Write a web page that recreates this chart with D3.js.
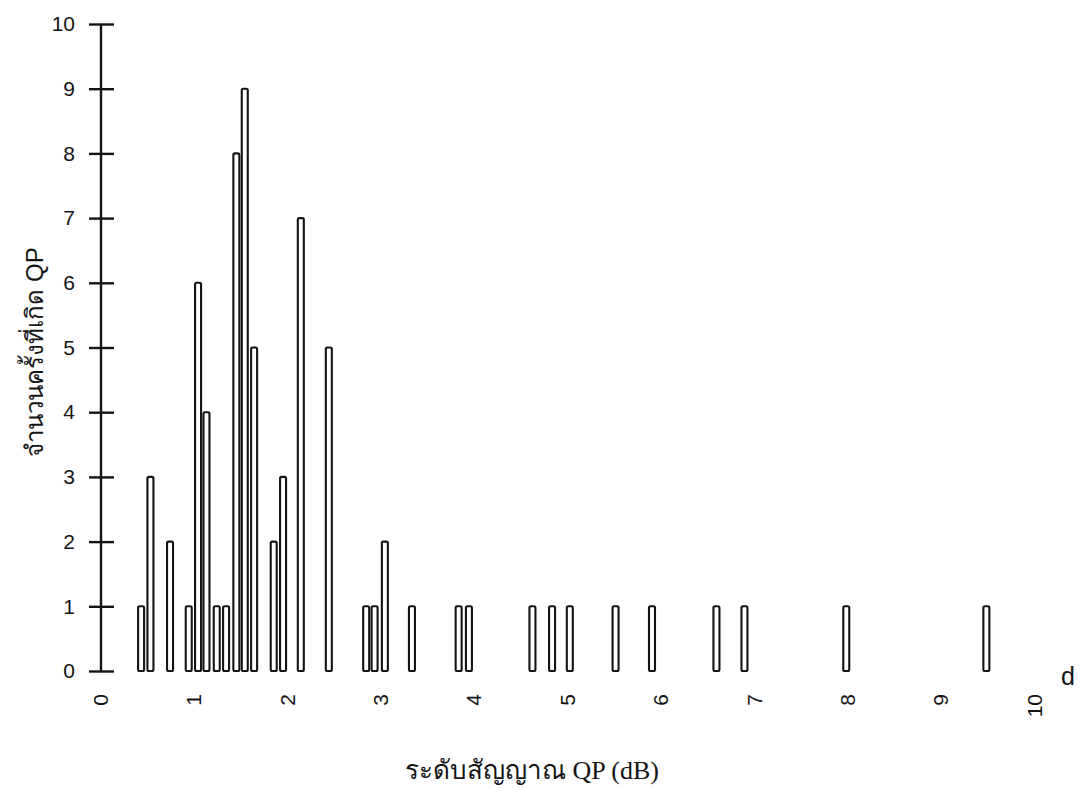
<!DOCTYPE html>
<html>
<head>
<meta charset="utf-8">
<script src="https://cdn.jsdelivr.net/npm/d3@7"></script>
<style>
  html, body { margin: 0; padding: 0; background: #fff; }
  svg { display: block; }
</style>
</head>
<body>
<svg id="chart" width="1085" height="789"></svg>
<script>
// ---- data ----
const levels = [0.44, 0.54, 0.75, 0.95, 1.05, 1.14, 1.25, 1.35, 1.46, 1.55, 1.65, 1.86, 1.96, 2.15, 2.45,
                2.85, 2.94, 3.05, 3.34, 3.84, 3.95, 4.63, 4.84, 5.03, 5.52, 5.91, 6.60, 6.90, 7.99, 9.49];
const counts = [1, 3, 2, 1, 6, 4, 1, 1, 8, 9, 5, 2, 3, 7, 5,
                1, 1, 2, 1, 1, 1, 1, 1, 1, 1, 1, 1, 1, 1, 1];
const xTicks = [0, 1, 2, 3, 4, 5, 6, 7, 8, 9, 10];
const yTicks = [0, 1, 2, 3, 4, 5, 6, 7, 8, 9, 10];
const yTitle = "จำนวนครั้งที่เกิด QP";
const xTitle = "ระดับสัญญาณ QP (dB)";
const cornerMark = "d";

const data = levels.map((v, i) => ({ v, c: counts[i] }));

const svg = d3.select("#chart");
const x = d3.scaleLinear().domain([0, 10]).range([100, 1034]);
const y = d3.scaleLinear().domain([0, 10]).range([671, 24]);
const ink = "#141414";
const sans = "'Liberation Sans', Arial, 'Noto Sans', sans-serif";
const serif = "'Liberation Serif', 'Times New Roman', serif";

// bars
svg.append("g").selectAll("rect").data(data).join("rect")
  .attr("x", d => x(d.v) - 3)
  .attr("y", d => y(d.c))
  .attr("width", 6)
  .attr("height", d => y(0) - y(d.c))
  .attr("rx", 1.5)
  .attr("fill", "#fff")
  .attr("stroke", ink)
  .attr("stroke-width", 2.1);

// y axis with crossing ticks
const yAxis = svg.append("g")
  .attr("transform", "translate(101,0)")
  .call(d3.axisLeft(y).tickValues(yTicks).tickFormat(d3.format("d")).tickSize(12));
yAxis.select(".domain").attr("d", `M0,${y(10)}V${y(0)}`).attr("stroke", ink).attr("stroke-width", 2.4);
yAxis.selectAll(".tick line").attr("x1", -12).attr("x2", 13).attr("stroke", ink).attr("stroke-width", 2.4);
yAxis.selectAll(".tick text")
  .attr("x", -26)
  .attr("fill", ink)
  .style("font-family", sans)
  .style("font-size", "21px");

// x axis: rotated labels only
const xAxis = svg.append("g")
  .attr("transform", `translate(0,${y(0)})`)
  .call(d3.axisBottom(x).tickValues(xTicks).tickFormat(d3.format("d")).tickSize(0));
xAxis.select(".domain").remove();
xAxis.selectAll(".tick text")
  .attr("transform", "rotate(-90)")
  .attr("x", -23)
  .attr("y", 0)
  .attr("dy", "0.35em")
  .attr("text-anchor", "end")
  .attr("fill", ink)
  .style("font-family", sans)
  .style("font-size", "21px");

// y title
svg.append("text")
  .attr("transform", "translate(43,352) rotate(-90)")
  .attr("text-anchor", "middle")
  .attr("fill", ink)
  .style("font-family", sans)
  .style("font-size", "24px")
  .text(yTitle);

// x title
svg.append("text")
  .attr("x", 532)
  .attr("y", 779)
  .attr("text-anchor", "middle")
  .attr("fill", ink)
  .style("font-family", serif)
  .style("font-size", "26px")
  .text(xTitle);

// stray mark at right
svg.append("text")
  .attr("x", 1068)
  .attr("y", 685)
  .attr("text-anchor", "middle")
  .attr("fill", ink)
  .style("font-family", sans)
  .style("font-size", "25px")
  .text(cornerMark);
</script>
</body>
</html>
